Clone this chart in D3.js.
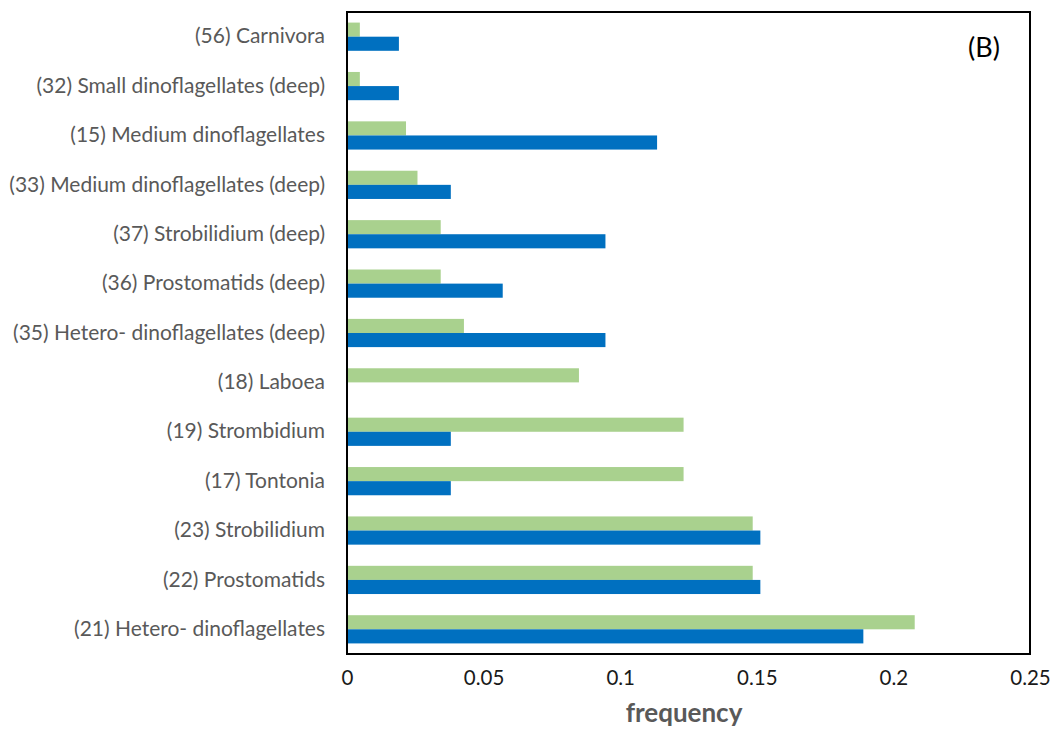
<!DOCTYPE html>
<html>
<head>
<meta charset="utf-8">
<script src="https://cdn.jsdelivr.net/npm/d3@7"></script>
<style>
  html, body { margin: 0; padding: 0; background: #fff; }
  svg { display: block; }
</style>
</head>
<body>
<svg id="chart" width="1052" height="729"></svg>
<script>
// Plankton groups, listed top to bottom
const categories = [
  "(56) Carnivora",
  "(32) Small dinoflagellates (deep)",
  "(15) Medium dinoflagellates",
  "(33) Medium dinoflagellates (deep)",
  "(37) Strobilidium (deep)",
  "(36) Prostomatids (deep)",
  "(35) Hetero- dinoflagellates (deep)",
  "(18) Laboea",
  "(19) Strombidium",
  "(17) Tontonia",
  "(23) Strobilidium",
  "(22) Prostomatids",
  "(21) Hetero- dinoflagellates"
];

// Upper (green) bar of each pair
const seriesGreen = [0.0047, 0.0047, 0.0216, 0.0258, 0.0343, 0.0343, 0.0428, 0.0849, 0.1232, 0.1232, 0.1485, 0.1485, 0.2078];

// Lower (blue) bar of each pair
const seriesBlue = [0.0190, 0.0190, 0.1135, 0.0380, 0.0946, 0.0570, 0.0946, 0, 0.0380, 0.0380, 0.1513, 0.1513, 0.1890];

const xTicks = [0, 0.05, 0.1, 0.15, 0.2, 0.25];
const xTickLabels = ["0", "0.05", "0.1", "0.15", "0.2", "0.25"];
const axisTitle = "frequency";
const panelTag = "(B)";

const svg = d3.select("#chart");
const plot = { left: 347, right: 1030, top: 12, bottom: 654 };
const FONT = "Lato, 'Open Sans', sans-serif";

const x = d3.scaleLinear().domain([0, 0.25]).range([plot.left, plot.right]);

// gap between pairs is 1.5 bar widths
const y = d3.scaleBand()
  .domain(categories)
  .range([plot.top, plot.bottom])
  .paddingInner(1.5 / 3.5)
  .paddingOuter(0.75 / 3.5);

const sub = d3.scaleBand()
  .domain(["green", "blue"])
  .range([0, y.bandwidth()]);

const rows = categories.map((c, i) => ({ cat: c, green: seriesGreen[i], blue: seriesBlue[i] }));

const g = svg.append("g");

const row = g.selectAll("g.row").data(rows).join("g")
  .attr("class", "row")
  .attr("transform", d => `translate(0,${y(d.cat)})`);

row.append("rect")
  .attr("x", x(0))
  .attr("y", sub("green"))
  .attr("width", d => x(d.green) - x(0))
  .attr("height", sub.bandwidth())
  .attr("fill", "#A9D18E");

row.append("rect")
  .attr("x", x(0))
  .attr("y", sub("blue"))
  .attr("width", d => x(d.blue) - x(0))
  .attr("height", sub.bandwidth())
  .attr("fill", "#0070C0");

// Frame around the plot area
g.append("rect")
  .attr("x", plot.left)
  .attr("y", plot.top)
  .attr("width", plot.right - plot.left)
  .attr("height", plot.bottom - plot.top)
  .attr("fill", "none")
  .attr("stroke", "#000")
  .attr("stroke-width", 2);

// Category axis
const yAxis = d3.axisLeft(y).tickSize(0).tickPadding(22);
const yg = svg.append("g")
  .attr("transform", `translate(${plot.left},0)`)
  .call(yAxis);
yg.select(".domain").remove();
const catText = yg.selectAll("text")
  .attr("font-family", FONT)
  .attr("font-size", 20)
  .attr("fill", "#595959");

// size the category labels so the longest one fills the left margin
const longest = catText.filter(d => d === categories[3]).node();
const fitted = 20 * 316 / longest.getComputedTextLength();
catText.attr("font-size", fitted);

// Value axis
const xAxis = d3.axisBottom(x)
  .tickValues(xTicks)
  .tickFormat((d, i) => xTickLabels[i])
  .tickSize(0)
  .tickPadding(16);
const xg = svg.append("g")
  .attr("transform", `translate(0,${plot.bottom})`)
  .call(xAxis);
xg.select(".domain").remove();
xg.selectAll("text")
  .attr("font-family", FONT)
  .attr("font-size", 20.5)
  .attr("fill", "#1a1a1a");

svg.append("text")
  .attr("x", 684)
  .attr("y", 722)
  .attr("text-anchor", "middle")
  .attr("font-family", FONT)
  .attr("font-weight", "bold")
  .attr("font-size", 26)
  .attr("fill", "#595959")
  .text(axisTitle);

svg.append("text")
  .attr("x", 984)
  .attr("y", 57)
  .attr("text-anchor", "middle")
  .attr("font-family", FONT)
  .attr("font-size", 27)
  .attr("fill", "#000")
  .text(panelTag);
</script>
</body>
</html>
